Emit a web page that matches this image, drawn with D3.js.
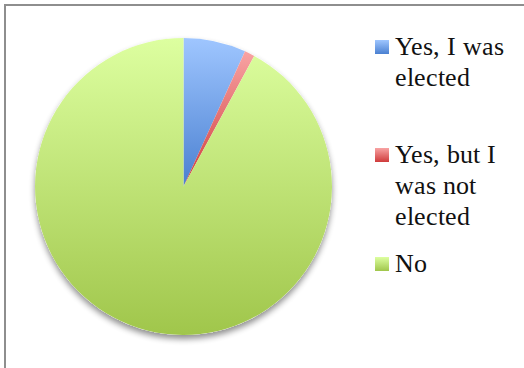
<!DOCTYPE html>
<html><head><meta charset="utf-8">
<script src="https://cdn.jsdelivr.net/npm/d3@7"></script>
<style>
@font-face{font-family:"LegendSerif";src:local("Liberation Serif"),local("LiberationSerif"),local("Liberation Serif Regular"),local("LiberationSerif-Regular");}
</style>
</head><body style="margin:0;padding:0;background:#fff;">
<script>
const categories = ["Yes, I was elected", "Yes, but I was not elected", "No"];
const legendLines = [["Yes, I was", "elected"], ["Yes, but I", "was not", "elected"], ["No"]];
const values = [6.8, 1.1, 92.1];
const colorsTop = ["#9fc6ff", "#f8a3a3", "#ddffa0"];
const colorsBottom = ["#4a80d1", "#cf3b3b", "#a0c64b"];

const W = 524, H = 368;
const svg = d3.select("body").append("svg").attr("width", W).attr("height", H)
  .style("display", "block");
const defs = svg.append("defs");

categories.forEach((c, i) => {
  const g = defs.append("linearGradient").attr("id", "g" + i)
    .attr("x1", 0).attr("y1", 0).attr("x2", 0).attr("y2", 1);
  g.append("stop").attr("offset", "0%").attr("stop-color", colorsTop[i]);
  g.append("stop").attr("offset", "100%").attr("stop-color", colorsBottom[i]);
});

const f = defs.append("filter").attr("id", "shadow")
  .attr("x", "-20%").attr("y", "-20%").attr("width", "140%").attr("height", "140%");
f.append("feGaussianBlur").attr("in", "SourceAlpha").attr("stdDeviation", 3);
f.append("feOffset").attr("dx", 0).attr("dy", 4).attr("result", "ob");
f.append("feComponentTransfer").append("feFuncA").attr("type", "linear").attr("slope", 0.45);
const fm = f.append("feMerge");
fm.append("feMergeNode");
fm.append("feMergeNode").attr("in", "SourceGraphic");

svg.append("rect").attr("x", 5).attr("y", 5).attr("width", 600).attr("height", 500)
  .attr("fill", "none").attr("stroke", "#8e8e8e").attr("stroke-width", 2);

const cx = 183.5, cy = 186.5, r = 148.5;
const pie = d3.pie().sort(null).value(d => d)(values);
const arc = d3.arc().innerRadius(0).outerRadius(r);

const pg = svg.append("g").attr("transform", `translate(${cx},${cy})`);
pg.append("circle").attr("r", r).attr("fill", "#ffffff").attr("filter", "url(#shadow)");
pg.selectAll("path.slice").data(pie).join("path").attr("class", "slice")
  .attr("d", arc).attr("fill", (d, i) => `url(#g${i})`);

const legendY = [40, 148, 257];
const lg = svg.append("g");
categories.forEach((c, i) => {
  lg.append("rect").attr("x", 375).attr("y", legendY[i]).attr("width", 14).attr("height", 14)
    .attr("fill", `url(#g${i})`);
  legendLines[i].forEach((ln, j) => {
    lg.append("text").attr("x", 395).attr("y", legendY[i] + 15 + j * 31)
      .style("font-family", '"LegendSerif", "DejaVu Serif"').attr("font-size", 26).attr("fill", "#111")
      .text(ln);
  });
});
</script>
</body></html>
